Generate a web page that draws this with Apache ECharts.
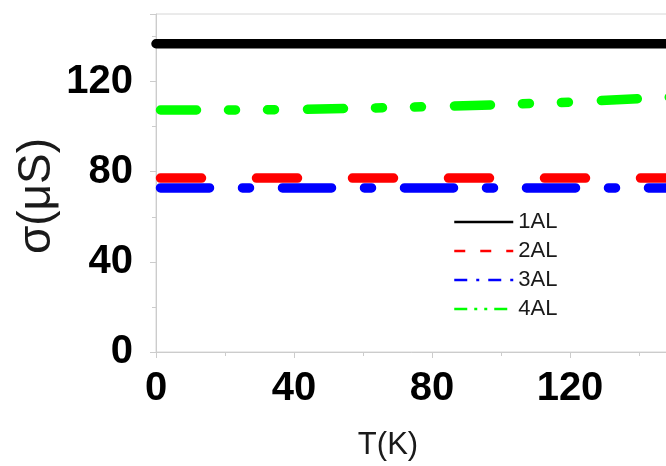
<!DOCTYPE html>
<html>
<head>
<meta charset="utf-8">
<script src="https://cdn.jsdelivr.net/npm/echarts@6/dist/echarts.min.js"></script>
<style>html,body{margin:0;padding:0;background:#fff}#c{width:666px;height:466px}</style>
</head>
<body>
<div id="c"></div>
<script>
// Data
var temps = [0, 20, 40, 60, 80, 100, 120, 140, 160];
var al1 = [136.8, 136.8, 136.8, 136.8, 136.8, 136.8, 136.8, 136.8, 136.8];
var al2 = [77.2, 77.2, 77.2, 77.2, 77.2, 77.2, 77.2, 77.2, 77.2];
var al3 = [72.8, 72.8, 72.8, 72.8, 72.8, 72.8, 72.8, 72.8, 72.8];
var al4 = [107.4, 107.4, 107.6, 108.2, 108.9, 109.8, 110.9, 112.4, 114.0];
var seriesNames = ['1AL', '2AL', '3AL', '4AL'];
var xTitle = 'T(K)';
var yTitle = 'σ(μS)';

function pairs(xs, ys) { return xs.map(function (x, i) { return [x, ys[i]]; }); }

var chart = echarts.init(document.getElementById('c'), null, {renderer: 'canvas'});
var W = 9.5;
var axisGray = '#cccccc';
var labelFont = {color: '#000', fontSize: 40, fontWeight: 'bold', fontFamily: 'Liberation Sans, Arial, sans-serif'};

chart.setOption({
  animation: false,
  backgroundColor: '#fff',
  grid: {left: 156, top: 14, width: 1035, height: 338, outerBoundsMode: 'none', containLabel: false,
         show: true, borderColor: '#d6d6d6', borderWidth: 1, backgroundColor: 'transparent'},
  xAxis: {
    type: 'value', min: 0, max: 300, interval: 40,
    axisLine: {show: true, lineStyle: {color: axisGray, width: 1}},
    axisTick: {show: true, inside: false, length: 6, lineStyle: {color: axisGray}},
    minorTick: {show: true, splitNumber: 2, length: 4, lineStyle: {color: axisGray}},
    splitLine: {show: false},
    axisLabel: Object.assign({margin: 17, hideOverlap: false}, labelFont)
  },
  yAxis: {
    type: 'value', min: 0, max: 150, interval: 40,
    axisLine: {show: true, lineStyle: {color: axisGray, width: 1}},
    axisTick: {show: true, inside: false, length: 6, lineStyle: {color: axisGray}},
    minorTick: {show: true, splitNumber: 2, length: 4, lineStyle: {color: axisGray}},
    splitLine: {show: false},
    axisLabel: Object.assign({margin: 23, showMaxLabel: false}, labelFont)
  },
  legend: {
    orient: 'vertical', left: 453, top: 211, padding: 0,
    itemWidth: 59, itemHeight: 14, itemGap: 7,
    itemStyle: {color: 'transparent', borderWidth: 0, opacity: 0},
    textStyle: {color: '#1a1a1a', fontSize: 22, fontFamily: 'Liberation Sans, Arial, sans-serif'},
    data: [
      {name: seriesNames[0], lineStyle: {width: 2.5, type: 'solid', cap: 'butt', opacity: 1}},
      {name: seriesNames[1], lineStyle: {width: 2.5, type: [11, 15], cap: 'butt', dashOffset: 0, opacity: 1}},
      {name: seriesNames[2], lineStyle: {width: 2.5, type: [13, 9, 3, 9], cap: 'butt', dashOffset: 0, opacity: 1}},
      {name: seriesNames[3], lineStyle: {width: 2.5, type: [13, 7, 3, 7, 3, 7], cap: 'butt', dashOffset: 0, opacity: 1}}
    ]
  },
  series: [
    {name: seriesNames[0], type: 'line', data: pairs(temps, al1), showSymbol: false, symbol: 'none',
     lineStyle: {color: '#000000', width: W, cap: 'round'}, itemStyle: {color: '#000000'}},
    {name: seriesNames[1], type: 'line', data: pairs(temps, al2), showSymbol: false, symbol: 'none',
     lineStyle: {color: '#ff0000', width: W, type: [41, 55], dashOffset: -4.5, cap: 'round'}, itemStyle: {color: '#ff0000'}},
    {name: seriesNames[2], type: 'line', data: pairs(temps, al3), showSymbol: false, symbol: 'none',
     lineStyle: {color: '#0000ff', width: W, type: [49, 33, 7, 33], dashOffset: -4.5, cap: 'round'}, itemStyle: {color: '#0000ff'}},
    {name: seriesNames[3], type: 'line', data: pairs(temps, al4), showSymbol: false, symbol: 'none',
     lineStyle: {color: '#00ff00', width: W, type: [36, 32, 7, 32, 7, 33], dashOffset: -4.5, cap: 'round'}, itemStyle: {color: '#00ff00'}}
  ],
  graphic: [
    {type: 'text', x: 388, y: 445, style: {text: xTitle, font: '31px "Liberation Sans", Arial, sans-serif', fill: '#1a1a1a', textAlign: 'center', textVerticalAlign: 'middle'}},
    {type: 'text', x: 37, y: 196, rotation: Math.PI / 2, style: {text: yTitle, font: '46px "Liberation Sans", Arial, sans-serif', fill: '#1a1a1a', textAlign: 'center', textVerticalAlign: 'middle'}}
  ]
});
</script>
</body>
</html>
